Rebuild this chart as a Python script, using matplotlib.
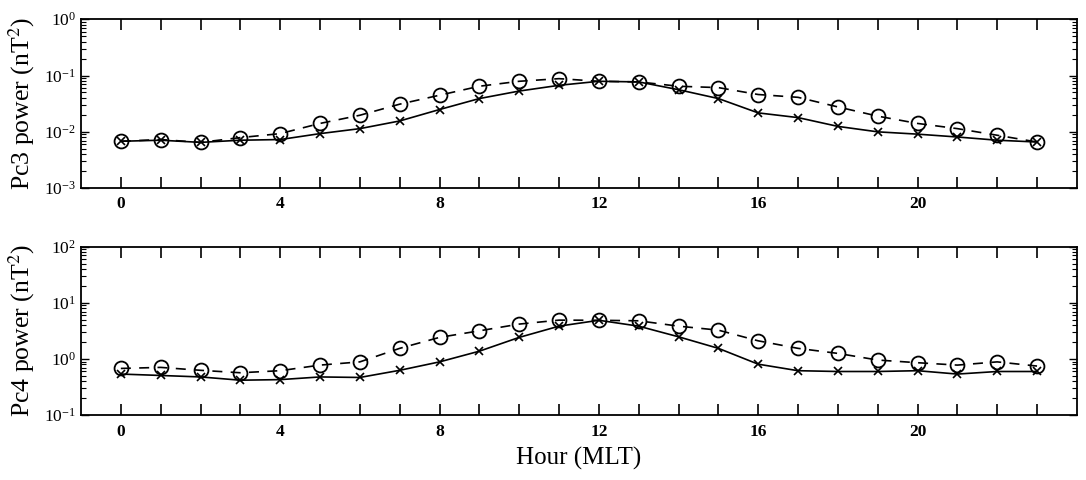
import matplotlib
matplotlib.use("Agg")
import matplotlib.pyplot as plt
from matplotlib.ticker import LogLocator, NullFormatter, FixedLocator

plt.rcParams['font.family'] = ['Liberation Serif', 'DejaVu Serif']
plt.rcParams['mathtext.fontset'] = 'stix'

hours = list(range(24))

# Pc3 power (nT^2)
pc3_circle = [0.0068, 0.0073, 0.0065, 0.0079, 0.0093, 0.0141, 0.0197, 0.031,
              0.0447, 0.0645, 0.079, 0.088, 0.079, 0.077, 0.0645, 0.061,
              0.046, 0.041, 0.0277, 0.019, 0.0141, 0.0114, 0.0087, 0.0066]
pc3_cross = [0.0068, 0.0071, 0.0065, 0.0071, 0.0073, 0.0093, 0.0114, 0.0156,
             0.0249, 0.039, 0.053, 0.067, 0.079, 0.077, 0.056, 0.039,
             0.0217, 0.0179, 0.0125, 0.0100, 0.0091, 0.0081, 0.0071, 0.0066]

# Pc4 power (nT^2)
pc4_circle = [0.68, 0.71, 0.63, 0.57, 0.62, 0.78, 0.89, 1.55,
              2.43, 3.18, 4.19, 4.93, 4.9, 4.8, 3.85, 3.27,
              2.11, 1.55, 1.26, 0.96, 0.86, 0.78, 0.89, 0.75]
pc4_cross = [0.54, 0.51, 0.48, 0.42, 0.43, 0.48, 0.47, 0.63,
             0.89, 1.38, 2.43, 3.85, 4.9, 3.85, 2.49, 1.55,
             0.81, 0.62, 0.60, 0.60, 0.62, 0.54, 0.60, 0.60]

xtick_labels = ['0', '4', '8', '12', '16', '20']

fig = plt.figure(figsize=(10.86, 4.8), dpi=100)
ax1 = fig.add_axes([0.0746, 0.608, 0.917, 0.352])
ax2 = fig.add_axes([0.0746, 0.135, 0.917, 0.351])

panels = [
    (ax1, pc3_circle, pc3_cross, (1e-3, 1e0), 'Pc3 power (nT$^2$)'),
    (ax2, pc4_circle, pc4_cross, (1e-1, 1e2), 'Pc4 power (nT$^2$)'),
]

for ax, circ, cross, ylim, label in panels:
    ax.plot(hours, circ, color='black', linestyle=(0, (6, 5)), linewidth=1.2,
            marker='o', markersize=10, markerfacecolor='none',
            markeredgewidth=1.3)
    ax.plot(hours, cross, color='black', linestyle='-', linewidth=1.2,
            marker='x', markersize=6, markeredgewidth=1.2)
    ax.set_yscale('log')
    ax.set_ylim(*ylim)
    ax.set_xlim(-1, 24)
    ax.xaxis.set_major_locator(FixedLocator(list(range(0, 24))))
    ax.set_xticklabels([str(h) if h % 4 == 0 else '' for h in range(24)])
    ax.yaxis.set_major_locator(LogLocator(base=10, numticks=10))
    ax.yaxis.set_minor_locator(LogLocator(base=10, subs=range(2, 10), numticks=10))
    ax.yaxis.set_minor_formatter(NullFormatter())
    ax.tick_params(axis='x', which='major', direction='in', top=True,
                   length=8, width=1.2, labelsize=12.5, pad=6)
    ax.tick_params(axis='y', which='major', direction='in', right=True,
                   length=6, width=1.0, labelsize=12.5)
    ax.tick_params(axis='y', which='minor', direction='in', right=True,
                   length=3.5, width=0.8)
    for lbl in ax.get_xticklabels():
        lbl.set_fontweight('bold')
    for s in ax.spines.values():
        s.set_linewidth(1.3)
    ax.set_ylabel(label, fontsize=18.5, labelpad=5)

ax2.set_xlabel('Hour (MLT)', fontsize=18, labelpad=5)

fig.savefig('out.png', dpi=100)
